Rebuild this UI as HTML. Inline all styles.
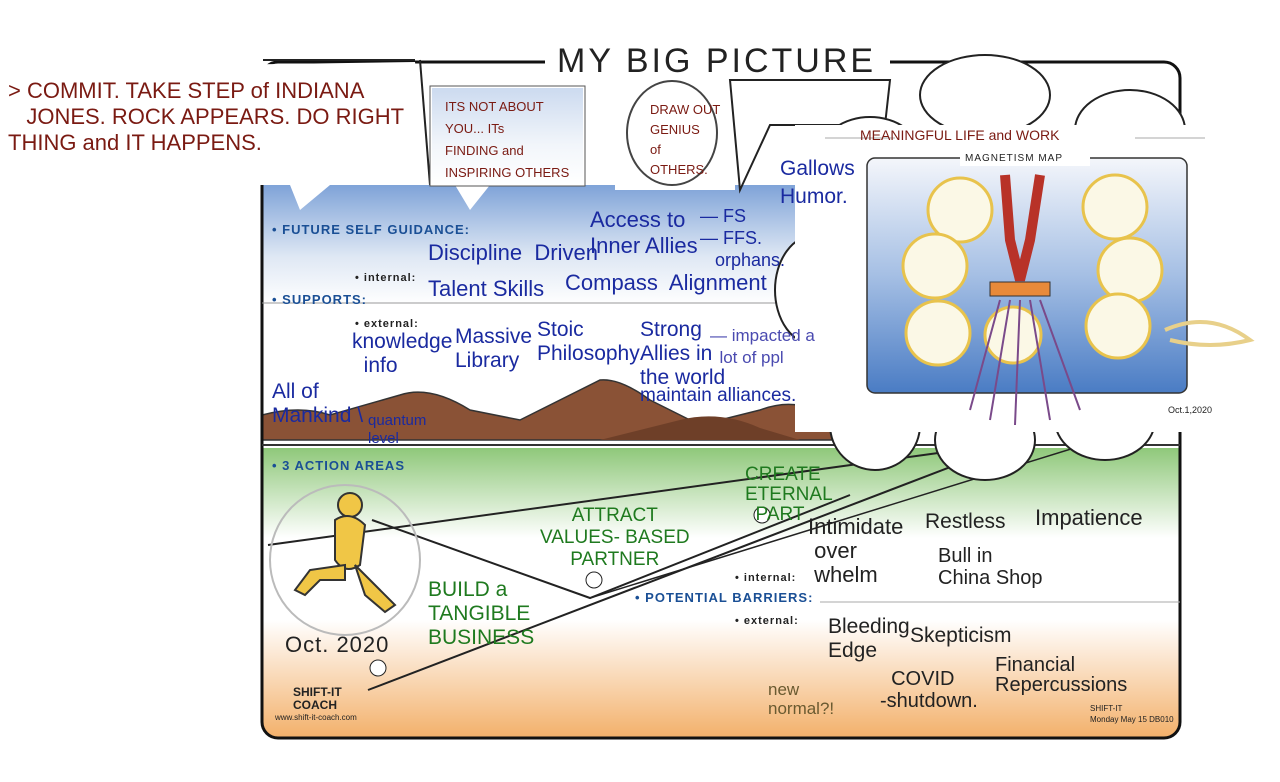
<!DOCTYPE html>
<html><head><meta charset="utf-8"><style>
html,body{margin:0;padding:0;background:#fff;width:1280px;height:782px;overflow:hidden;position:relative;font-family:"Liberation Sans",sans-serif}
.t{position:absolute;white-space:nowrap;font-family:"Liberation Sans",sans-serif}
.b{color:#1a2aa0}
.g{color:#1f7a1f}
.r{color:#7a1a12}
.k{color:#222}
.h{color:#1a4f95;font-weight:bold;font-size:13px;letter-spacing:1px}
</style></head><body>
<svg width="1280" height="782" style="position:absolute;left:0;top:0">
<defs>
<linearGradient id="sky" x1="0" y1="0" x2="0" y2="1"><stop offset="0" stop-color="#7fa3d8"/><stop offset="0.6" stop-color="#dfe8f4"/><stop offset="1" stop-color="#fff"/></linearGradient>
<linearGradient id="grn" x1="0" y1="0" x2="0" y2="1"><stop offset="0" stop-color="#8fc87a"/><stop offset="1" stop-color="#fff"/></linearGradient>
<linearGradient id="org" x1="0" y1="0" x2="0" y2="1"><stop offset="0" stop-color="#fff"/><stop offset="1" stop-color="#f3b06a"/></linearGradient>
<linearGradient id="mm" x1="0" y1="0" x2="0" y2="1"><stop offset="0" stop-color="#f4f6fb"/><stop offset="0.5" stop-color="#a5bfe4"/><stop offset="1" stop-color="#4a7cc4"/></linearGradient>
<clipPath id="fr"><rect x="262" y="62" width="918" height="676" rx="16"/></clipPath>
</defs>
<g clip-path="url(#fr)">
<rect x="262" y="62" width="918" height="676" fill="#fff"/>
<rect x="262" y="185" width="918" height="120" fill="url(#sky)"/>
<rect x="262" y="448" width="918" height="90" fill="url(#grn)"/>
<rect x="262" y="620" width="918" height="118" fill="url(#org)"/>
<path d="M262 440 L262 415 Q300 405 330 415 L400 395 Q430 385 470 410 L520 420 Q560 400 600 380 Q620 378 650 400 L700 425 L760 410 Q800 395 830 420 L860 440 Z" fill="#8a5236" stroke="#333" stroke-width="1.5"/>
<path d="M600 440 L680 420 Q720 410 760 428 L800 440 Z" fill="#6e3f28"/>
</g>
<rect x="262" y="62" width="918" height="676" rx="16" fill="none" stroke="#111" stroke-width="3"/>
<line x1="262" y1="303" x2="1180" y2="303" stroke="#999" stroke-width="1"/>
<line x1="262" y1="445" x2="1180" y2="445" stroke="#333" stroke-width="2"/>
<line x1="820" y1="602" x2="1180" y2="602" stroke="#aaa" stroke-width="1"/>
<path d="M268 545 L960 450" stroke="#222" stroke-width="2" fill="none"/>
<path d="M372 520 L590 598 L850 495" stroke="#222" stroke-width="2" fill="none"/>
<path d="M368 690 L1000 448" stroke="#222" stroke-width="2" fill="none"/>
<path d="M590 598 L1100 440" stroke="#222" stroke-width="1.5" fill="none"/>
<circle cx="345" cy="560" r="75" fill="none" stroke="#bbb" stroke-width="2"/>
<g fill="#f0c646" stroke="#333" stroke-width="2">
<circle cx="350" cy="505" r="12"/>
<path d="M335 520 Q350 510 365 525 L360 565 Q345 575 335 560 Z"/>
<path d="M345 565 L310 570 L295 590 L305 595 L320 580 L345 580 Z"/>
<path d="M355 565 L380 590 L395 605 L385 612 L365 595 Z"/>
</g>
<circle cx="378" cy="668" r="8" fill="#fff" stroke="#222"/>
<circle cx="594" cy="580" r="8" fill="#fff" stroke="#222"/>
<circle cx="762" cy="515" r="8" fill="#fff" stroke="#222"/>
<rect x="545" y="40" width="345" height="40" fill="#fff"/>
<path d="M8 68 L415 62 L430 180 L330 185 L300 210 L290 185 L10 185 Z" fill="#fff"/>
<path d="M263 60 L415 60" stroke="#222" stroke-width="2"/>
<path d="M420 60 L430 185" stroke="#222" stroke-width="2"/>
<path d="M430 185 L455 185 L470 210 L490 185 L620 185 L625 60 Z" fill="#fff"/>
<rect x="430" y="86" width="155" height="100" fill="#fff" stroke="#555"/>
<rect x="432" y="88" width="151" height="96" fill="url(#sky)" opacity="0.4"/>
<rect x="615" y="80" width="120" height="110" fill="#fff"/>
<ellipse cx="672" cy="133" rx="45" ry="52" fill="#fff" stroke="#444" stroke-width="2"/>
<path d="M730 80 L890 80 L885 125 L770 125 L740 190 Z" fill="#fff" stroke="#222" stroke-width="2"/>
<g fill="#fff" stroke="#222" stroke-width="2">
<ellipse cx="985" cy="95" rx="65" ry="40"/>
<ellipse cx="1130" cy="130" rx="55" ry="40"/>
<ellipse cx="870" cy="155" rx="50" ry="38"/>
<ellipse cx="815" cy="290" rx="40" ry="55"/>
<ellipse cx="875" cy="425" rx="45" ry="45"/>
<ellipse cx="985" cy="440" rx="50" ry="40"/>
<ellipse cx="1105" cy="420" rx="50" ry="40"/>
</g>
<rect x="795" y="125" width="445" height="307" fill="#fff"/>
<line x1="825" y1="138" x2="895" y2="138" stroke="#aaa"/>
<line x1="1135" y1="138" x2="1205" y2="138" stroke="#aaa"/>
<rect x="867" y="158" width="320" height="235" rx="8" fill="url(#mm)" stroke="#333" stroke-width="1.5"/>
<rect x="960" y="152" width="130" height="14" fill="#fff"/>
<g fill="#fbf8e6" stroke="#e8c34c" stroke-width="3">
<circle cx="960" cy="210" r="32"/><circle cx="1115" cy="207" r="32"/>
<circle cx="935" cy="266" r="32"/><circle cx="1130" cy="270" r="32"/>
<circle cx="938" cy="333" r="32"/><circle cx="1013" cy="335" r="28"/><circle cx="1118" cy="326" r="32"/>
</g>
<path d="M1005 175 L1010 240 L1020 280 L1030 240 L1040 175" stroke="#b83228" stroke-width="10" fill="none"/>
<rect x="990" y="282" width="60" height="14" fill="#e88a3a" stroke="#333"/>
<path d="M1000 300 L970 410 M1010 300 L990 420 M1020 300 L1015 425 M1030 300 L1050 420 M1040 300 L1080 410" stroke="#7a4a8a" stroke-width="2" fill="none"/>
<path d="M1165 330 Q1210 310 1250 340 Q1210 350 1170 340" stroke="#e8d08a" stroke-width="4" fill="none"/>
</svg>
<div class="t k" style="left:557px;top:42px;font-size:34px;letter-spacing:3px">MY BIG PICTURE</div>
<div class="t r" style="left:8px;top:78px;font-size:22px;line-height:26px">&gt; COMMIT. TAKE STEP of INDIANA<br>&nbsp;&nbsp;&nbsp;JONES. ROCK APPEARS. DO RIGHT<br>THING and IT HAPPENS.</div>
<div class="t r" style="left:445px;top:96px;font-size:13px;line-height:22px">ITS NOT ABOUT<br>YOU... ITs<br>FINDING and<br>INSPIRING OTHERS</div>
<div class="t r" style="left:650px;top:100px;font-size:13px;line-height:20px">DRAW OUT<br>GENIUS<br>of<br>OTHERS.</div>
<div class="t b" style="left:780px;top:155px;font-size:21px;line-height:28px">Gallows<br>Humor.</div>
<div class="t r" style="left:860px;top:127px;font-size:14px">MEANINGFUL LIFE and WORK</div>
<div class="t k" style="left:965px;top:153px;font-size:10px;letter-spacing:1px">MAGNETISM MAP</div>
<div class="t k" style="left:1168px;top:405px;font-size:9px">Oct.1,2020</div>
<div class="t h" style="left:272px;top:222px">• FUTURE SELF GUIDANCE:</div>
<div class="t h" style="left:272px;top:292px">• SUPPORTS:</div>
<div class="t h" style="left:355px;top:272px;font-size:11px;color:#222">• internal:</div>
<div class="t h" style="left:355px;top:318px;font-size:11px;color:#222">• external:</div>
<div class="t b" style="left:428px;top:240px;font-size:22px">Discipline&nbsp; Driven</div>
<div class="t b" style="left:590px;top:207px;font-size:22px;line-height:26px">Access to<br>Inner Allies</div>
<div class="t b" style="left:700px;top:205px;font-size:18px;line-height:22px">— FS<br>— FFS.<br>&nbsp;&nbsp;&nbsp;orphans.</div>
<div class="t b" style="left:428px;top:276px;font-size:22px">Talent Skills</div>
<div class="t b" style="left:565px;top:270px;font-size:22px">Compass&nbsp; Alignment</div>
<div class="t b" style="left:352px;top:330px;font-size:21px;line-height:24px">knowledge<br>&nbsp;&nbsp;info</div>
<div class="t b" style="left:455px;top:325px;font-size:21px;line-height:24px">Massive<br>Library</div>
<div class="t b" style="left:537px;top:318px;font-size:21px;line-height:24px">Stoic<br>Philosophy</div>
<div class="t b" style="left:640px;top:318px;font-size:21px;line-height:24px">Strong<br>Allies in<br>the world</div>
<div class="t b" style="left:710px;top:325px;font-size:17px;line-height:22px;color:#4a4ab0">— impacted a<br>&nbsp;&nbsp;lot of ppl</div>
<div class="t b" style="left:640px;top:385px;font-size:19px">maintain alliances.</div>
<div class="t b" style="left:272px;top:380px;font-size:21px;line-height:24px">All of<br>Mankind \</div>
<div class="t b" style="left:368px;top:412px;font-size:15px;line-height:18px">quantum<br>level</div>
<div class="t h" style="left:272px;top:458px">• 3 ACTION AREAS</div>
<div class="t g" style="left:745px;top:465px;font-size:19px;line-height:20px">CREATE<br>ETERNAL<br>&nbsp;&nbsp;PART</div>
<div class="t g" style="left:540px;top:505px;font-size:19px;line-height:22px;text-align:center">ATTRACT<br>VALUES- BASED<br>PARTNER</div>
<div class="t g" style="left:428px;top:578px;font-size:21px;line-height:24px">BUILD a<br>TANGIBLE<br>BUSINESS</div>
<div class="t k" style="left:285px;top:632px;font-size:22px;letter-spacing:1px">Oct. 2020</div>
<div class="t k" style="left:808px;top:515px;font-size:22px;line-height:24px">Intimidate<br>&nbsp;over<br>&nbsp;whelm</div>
<div class="t k" style="left:925px;top:510px;font-size:21px">Restless</div>
<div class="t k" style="left:1035px;top:505px;font-size:22px">Impatience</div>
<div class="t k" style="left:938px;top:545px;font-size:20px;line-height:22px">Bull in<br>China Shop</div>
<div class="t h" style="left:735px;top:572px;font-size:11px;color:#222">• internal:</div>
<div class="t h" style="left:635px;top:590px">• POTENTIAL BARRIERS:</div>
<div class="t h" style="left:735px;top:615px;font-size:11px;color:#222">• external:</div>
<div class="t k" style="left:828px;top:615px;font-size:21px;line-height:24px">Bleeding<br>Edge</div>
<div class="t k" style="left:910px;top:624px;font-size:21px">Skepticism</div>
<div class="t k" style="left:995px;top:655px;font-size:20px;line-height:20px">Financial<br>Repercussions</div>
<div class="t k" style="left:880px;top:668px;font-size:20px;line-height:22px">&nbsp;&nbsp;COVID<br>-shutdown.</div>
<div class="t" style="left:768px;top:680px;font-size:17px;line-height:19px;color:#6a5a30">new<br>normal?!</div>
<div class="t k" style="left:293px;top:686px;font-size:12px;font-weight:bold;line-height:13px">SHIFT-IT<br>COACH</div>
<div class="t k" style="left:275px;top:713px;font-size:8px">www.shift-it-coach.com</div>
<div class="t k" style="left:1090px;top:703px;font-size:8px;line-height:11px">SHIFT-IT<br>Monday May 15 DB010</div>
</body></html>
